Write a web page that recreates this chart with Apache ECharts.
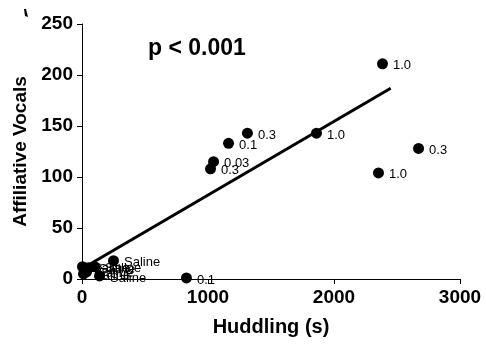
<!DOCTYPE html>
<html>
<head>
<meta charset="utf-8">
<script src="https://cdn.jsdelivr.net/npm/echarts@6/dist/echarts.min.js"></script>
<style>
  html, body { margin: 0; padding: 0; background: #fff; }
  #chart { width: 486px; height: 347px; }
</style>
</head>
<body>
<div id="chart"></div>
<script>
// huddling time (s) vs affiliative vocal count, label = dose
var huddling = [2385, 1313, 1163, 1044, 1020, 1861, 2353, 2671, 829, 4, 12, 36, 52, 100, 139, 250];
var vocals   = [211, 143, 133, 115, 108, 143, 104, 128, 1, 12, 5, 7, 11, 12, 3, 18];
var doses    = ['1.0', '0.3', '0.1', '0.03', '0.3', '1.0', '1.0', '0.3', '0.1',
                'Saline', 'Saline', 'Saline', 'Saline', 'Saline', 'Saline', 'Saline'];

// regression line end points
var fitX = [0, 2450];
var fitY = [10, 187];

var chart = echarts.init(document.getElementById('chart'));

var pts = huddling.map(function (x, i) { return { value: [x, vocals[i]], name: doses[i] }; });
var fit = fitX.map(function (x, i) { return [x, fitY[i]]; });

var bold = { fontFamily: 'Liberation Sans, Arial', fontWeight: 'bold', color: '#000' };

chart.setOption({
  animation: false,
  grid: { left: 82, right: 26, top: 24, bottom: 68 },
  xAxis: {
    type: 'value', min: 0, max: 3000, interval: 1000,
    name: 'Huddling (s)', nameLocation: 'middle', nameGap: 38,
    nameTextStyle: Object.assign({ fontSize: 20 }, bold),
    axisLine: { onZero: false, lineStyle: { color: '#000', width: 1 } },
    axisTick: { length: 5, lineStyle: { color: '#000' } },
    axisLabel: Object.assign({ fontSize: 19, margin: 9, formatter: function (v) { return String(v); } }, bold),
    splitLine: { show: false }
  },
  yAxis: {
    type: 'value', min: 0, max: 250, interval: 50,
    name: 'Affiliative Vocals', nameLocation: 'middle', nameGap: 52,
    nameTextStyle: Object.assign({ fontSize: 19 }, bold),
    axisLine: { show: true, lineStyle: { color: '#000', width: 1 } },
    axisTick: { show: true, length: 5, lineStyle: { color: '#000' } },
    axisLabel: Object.assign({ fontSize: 19, margin: 9 }, bold),
    splitLine: { show: false }
  },
  graphic: [
    { type: 'text', left: 148, top: 37,
      style: { text: 'p < 0.001', font: 'bold 23px "Liberation Sans", Arial', fill: '#000' } },
    { type: 'polygon', shape: { points: [[24, 9], [26, 9], [28, 17], [25, 16]] }, style: { fill: '#000' } }
  ],
  series: [
    {
      type: 'line', data: fit, symbol: 'none', silent: true,
      lineStyle: { color: '#000', width: 3 }, z: 2
    },
    {
      type: 'scatter', data: pts, symbolSize: 11,
      itemStyle: { color: '#000', opacity: 1 }, z: 3,
      label: {
        show: true, position: 'right', distance: 5,
        formatter: function (p) { return p.name; },
        fontFamily: 'Liberation Sans, Arial', fontSize: 13, color: '#000',
        offset: [0, 2]
      }
    }
  ]
});
</script>
</body>
</html>
